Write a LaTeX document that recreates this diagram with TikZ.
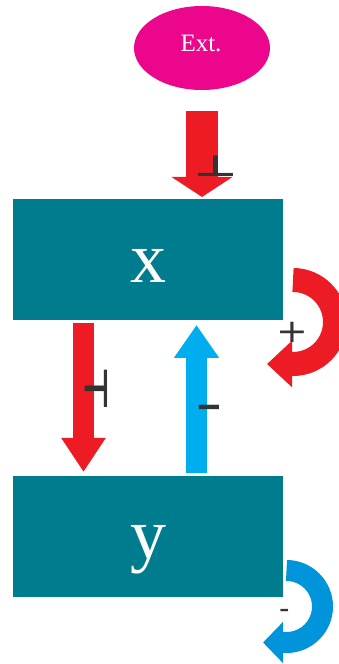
\documentclass[tikz,border=0pt]{standalone}
\usepackage{fontspec}
\setmainfont{Liberation Serif}
\newfontfamily\dejavu{DejaVu Sans}
\usetikzlibrary{shapes.geometric,arrows.meta}
\definecolor{teal}{HTML}{007C8F}
\definecolor{mag}{HTML}{EB068C}
\definecolor{redc}{HTML}{ED1C24}
\definecolor{cyanc}{HTML}{00AEEF}
\definecolor{loopblue}{HTML}{0095DA}
\definecolor{mkc}{HTML}{333333}
\tikzset{
  box/.style={fill=teal, draw=none, minimum width=270pt, minimum height=121pt, inner sep=0pt},
  lbl/.style={text=white, inner sep=0pt, font=\fontsize{72}{72}\selectfont},
  mk/.style={text=mkc, inner sep=0pt, font=\dejavu},
  fat/.style={line cap=butt}
}
\begin{document}
\begin{tikzpicture}[x=1pt,y=1pt]
\useasboundingbox (0,0) rectangle (339,664);
\node[ellipse, fill=mag, minimum width=136pt, minimum height=84pt, inner sep=0pt] (ext) at (202,616) {};
\node[text=white, inner sep=0pt, anchor=base, font=\fontsize{25}{25}\selectfont] (extl) at (201,612) {Ext.};
\node[box] (xb) at (148,404.5) {};
\node[lbl, anchor=base] (xl) at (148,381) {x};
\node[box] (yb) at (148,127.5) {};
\node[lbl, anchor=base] (yl) at (148,105) {y};
% arrows
\coordinate (t1) at (202,467);
\draw[fat, redc, line width=32pt, -{Triangle[length=20pt,width=60pt]}] (ext.south |- 0,553) -- (t1);
\coordinate (s2) at (83.5,341);
\coordinate (t2) at (83.5,192);
\draw[fat, redc, line width=21pt, -{Triangle[length=34pt,width=42pt]}] (s2) -- (t2);
\coordinate (s3) at (196.5,191);
\coordinate (t3) at (196.5,339);
\draw[fat, cyanc, line width=21pt, -{Triangle[length=33pt,width=43pt]}] (s3) -- (t3);
% loops
\coordinate (l1) at (293,384);
\draw[fat, redc, line width=24pt, -{Triangle[length=25pt,width=45pt]}] (l1) arc[start angle=90, end angle=-90, radius=42] -- ++(-26,0);
\coordinate (l2) at (286.5,93.5);
\draw[fat, loopblue, line width=21pt, -{Triangle[length=20pt,width=40pt]}] (l2) arc[start angle=90, end angle=-90, radius=36] -- ++(-23.5,0);
% marks
\node[mk] (m1) at (215.5,497.5) {\fontsize{47}{47}\selectfont\bfseries\scalebox{1}[0.62]{⊥}};
\node[mk] (m2) at (96,275.5) {\fontsize{53}{53}\selectfont\bfseries\scalebox{0.57}[1]{⊣}};
\node[mk] (m3) at (292.5,331.5) {\fontsize{38}{38}\selectfont\scalebox{1}[0.85]{+}};
\node[mk, anchor=base] (m4) at (209,241) {\fontsize{55}{55}\selectfont\scalebox{1.4}[1]{-}};
\node[mk, anchor=base] (m5) at (284.5,45.4) {\fontsize{29}{29}\selectfont -};
\end{tikzpicture}
\end{document}
